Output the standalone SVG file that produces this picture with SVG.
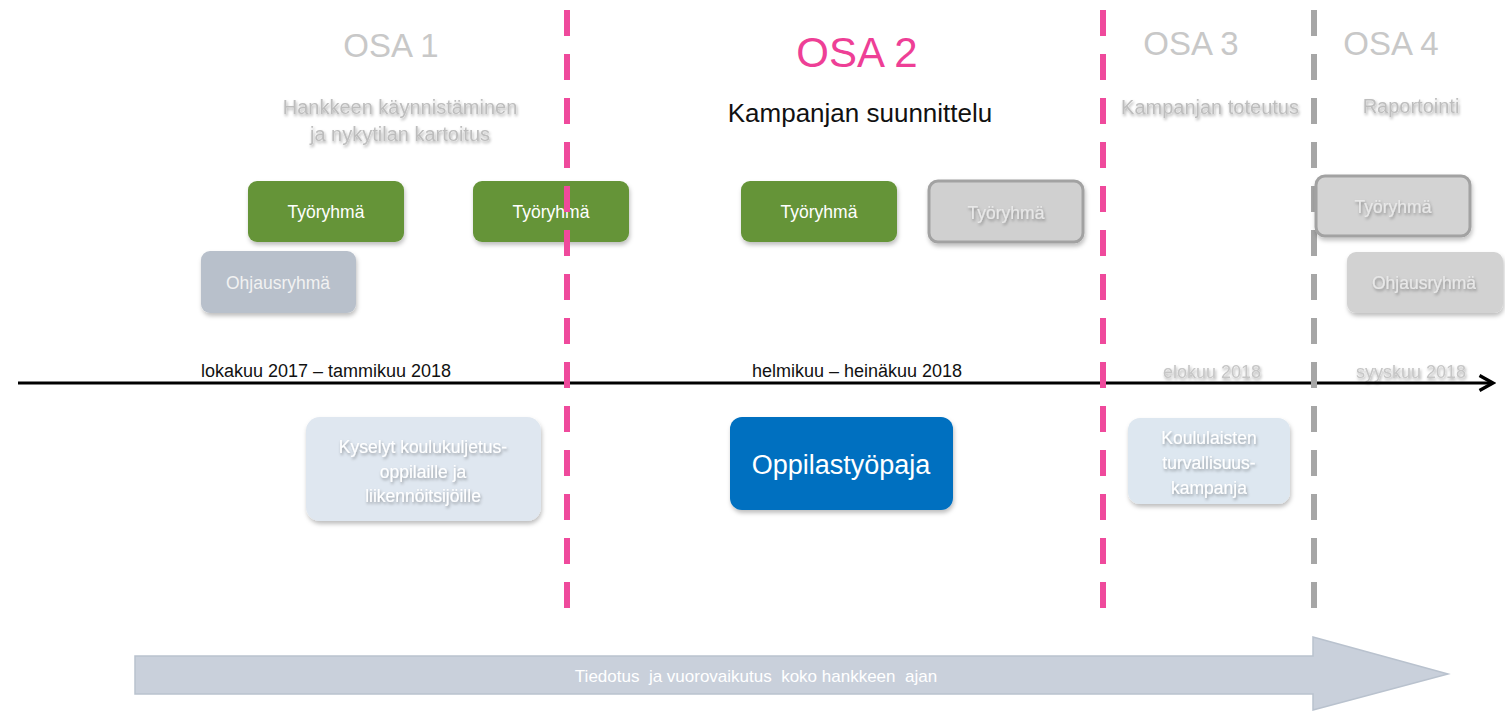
<svg xmlns="http://www.w3.org/2000/svg" width="1505" height="711" viewBox="0 0 1505 711">
<defs>
<filter id="sh" x="-10%" y="-10%" width="130%" height="140%"><feDropShadow dx="1" dy="3" stdDeviation="2" flood-color="#000" flood-opacity="0.25"/></filter>
<filter id="tsh" x="-10%" y="-30%" width="120%" height="180%"><feDropShadow dx="1" dy="2" stdDeviation="1.5" flood-color="#000" flood-opacity="0.35"/></filter>
<marker id="ah" viewBox="0 0 12 12" refX="10" refY="6" markerWidth="6" markerHeight="6" markerUnits="strokeWidth" orient="auto"><path d="M1,1 L10,6 L1,11" fill="none" stroke="#000" stroke-width="2.2"/></marker>
</defs>
<style>
text{font-family:"Liberation Sans",Arial,sans-serif;text-anchor:middle}
.osa{font-size:33px;fill:#c8c8c8}
.sub{font-size:20px;fill:#bdbdbd}
.green{fill:#659438;filter:url(#sh)}
.gw{fill:#fff;font-size:17.5px}
.graybox{fill:#d0d0d0;stroke:#a2a2a2;stroke-width:3;filter:url(#sh)}
.gt{fill:#e8e8e8;font-size:17.5px;filter:url(#tsh)}
.date{font-size:18px;fill:#111}
.dategray{font-size:18px;fill:#c6c6c6;filter:url(#tsh)}
.lt{fill:#fff;font-size:17.5px;filter:url(#tsh)}
.pink{stroke:#ef4a9c;stroke-width:6;stroke-dasharray:26 18;fill:none}
.grayl{stroke:#a6a6a6;stroke-width:6;stroke-dasharray:26 18;fill:none}
</style>
<rect width="1505" height="711" fill="#fff"/>

<g id="headers">
<text class="osa" x="391" y="57">OSA 1</text>
<text x="857" y="67" style="font-size:42px;fill:#ee3f96">OSA 2</text>
<text class="osa" x="1191" y="55">OSA 3</text>
<text class="osa" x="1391" y="55">OSA 4</text>
<text class="sub" x="400" y="114" filter="url(#tsh)">Hankkeen käynnistäminen</text>
<text class="sub" x="400" y="141" filter="url(#tsh)">ja nykytilan kartoitus</text>
<text x="860" y="122" style="font-size:26px;fill:#111">Kampanjan suunnittelu</text>
<text class="sub" x="1210" y="114" filter="url(#tsh)">Kampanjan toteutus</text>
<text class="sub" x="1411" y="113" filter="url(#tsh)">Raportointi</text>
</g>

<g id="dates">
<text class="date" x="326" y="377">lokakuu 2017 – tammikuu 2018</text>
<text class="date" x="857" y="377">helmikuu – heinäkuu 2018</text>
<text class="dategray" x="1212" y="378">elokuu 2018</text>
<text class="dategray" x="1411" y="378">syyskuu 2018</text>
</g>

<g id="connectors">
<line x1="18" y1="383" x2="1493" y2="383" stroke="#000" stroke-width="3" marker-end="url(#ah)"/>
</g>

<g id="tr1"><rect class="green" x="248" y="181" width="156" height="61" rx="9"/><text class="gw" x="326" y="218">Työryhmä</text></g>
<g id="tr2"><rect class="green" x="473" y="181" width="156" height="61" rx="9"/><text class="gw" x="551" y="218">Työryhmä</text></g>
<g id="tr3"><rect class="green" x="741" y="181" width="156" height="61" rx="9"/><text class="gw" x="819" y="218">Työryhmä</text></g>
<g id="tr4"><rect class="graybox" x="929" y="181" width="154" height="61" rx="9"/><text class="gt" x="1006" y="219">Työryhmä</text></g>
<g id="oh1"><rect x="201" y="251" width="155" height="62" rx="9" fill="#b8c0cb" filter="url(#sh)"/><text x="278" y="289" style="fill:#f2f2f2;font-size:17.5px">Ohjausryhmä</text></g>
<g id="oh2"><rect x="1347" y="252" width="156" height="61" rx="9" fill="#d2d2d2" filter="url(#sh)"/><text class="gt" x="1424" y="289">Ohjausryhmä</text></g>

<g id="separators">
<line class="pink" x1="567" y1="10" x2="567" y2="612"/>
<line class="pink" x1="1103" y1="10" x2="1103" y2="612"/>
<line class="grayl" x1="1314" y1="10" x2="1314" y2="612"/>
</g>

<g id="tr5"><rect class="graybox" x="1316" y="176" width="154" height="60" rx="9" fill-opacity="0.85"/><text class="gt" x="1393" y="213">Työryhmä</text></g>

<g id="kyselyt"><rect x="306" y="417" width="235" height="104" rx="14" fill="#dfe7f0" filter="url(#sh)"/>
<text class="lt" x="423" y="453">Kyselyt koulukuljetus-</text>
<text class="lt" x="423" y="478">oppilaille ja</text>
<text class="lt" x="423" y="502">liikennöitsijöille</text></g>

<g id="oppilastyopaja"><rect x="730" y="417" width="223" height="93" rx="12" fill="#0070c0" filter="url(#sh)"/>
<text x="841" y="474" style="fill:#fff;font-size:27px">Oppilastyöpaja</text></g>

<g id="koululaisten"><rect x="1128" y="418" width="162" height="86" rx="12" fill="#dde7f0" filter="url(#sh)"/>
<text class="lt" x="1209" y="444">Koululaisten</text>
<text class="lt" x="1209" y="469">turvallisuus-</text>
<text class="lt" x="1209" y="494">kampanja</text></g>

<g id="tiedotus">
<path d="M135,656 H1313 V637 L1448,674 L1313,710 V694 H135 Z" fill="#c9d0db" stroke="#b9c2ce" stroke-width="1.5"/>
<text x="756" y="682" style="fill:#fff;font-size:17px;font-family:'Liberation Sans Narrow','Liberation Sans',sans-serif" xml:space="preserve">Tiedotus  ja vuorovaikutus  koko hankkeen  ajan</text>
</g>
</svg>
